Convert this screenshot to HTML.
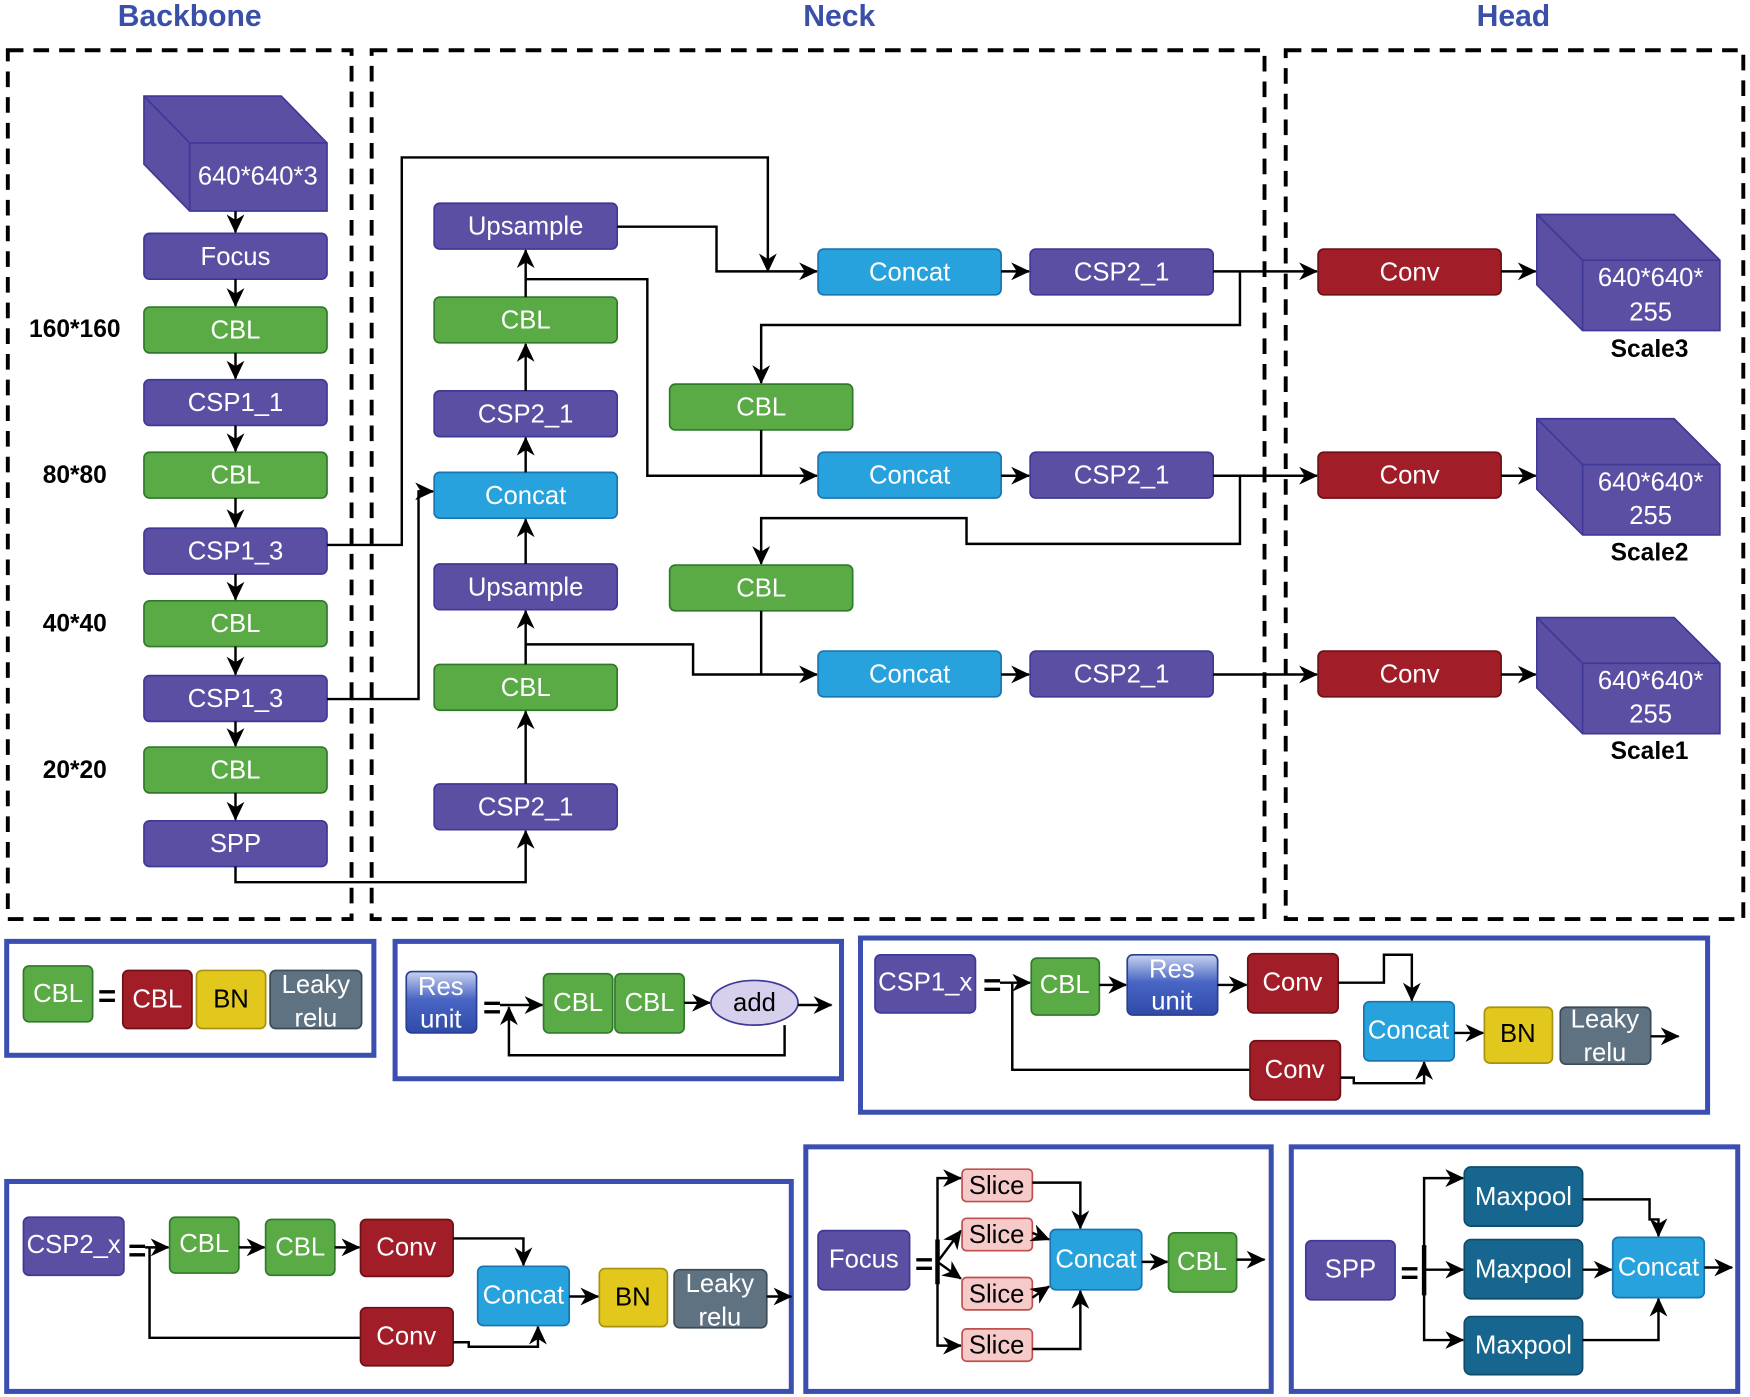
<!DOCTYPE html>
<html><head><meta charset="utf-8"><style>
html,body{margin:0;padding:0;background:#fff;}
svg{display:block;}
text{font-family:"Liberation Sans",sans-serif;}
.t{fill:#fff;font-size:23px;text-anchor:middle;dominant-baseline:central;}
.tk{fill:#000;font-size:23px;text-anchor:middle;dominant-baseline:central;}
.p{fill:#5b4fa3;stroke:#3e3896;stroke-width:1.5;}
.g{fill:#5aaa46;stroke:#2f7a2a;stroke-width:1.5;}
.c{fill:#27a2dc;stroke:#1a74b0;stroke-width:1.5;}
.r{fill:#a11d27;stroke:#6e1016;stroke-width:1.5;}
.y{fill:#e2c81c;stroke:#a89010;stroke-width:1.5;}
.gr{fill:#5f7282;stroke:#3c4a56;stroke-width:1.5;}
.ru{fill:url(#ru);stroke:#2a3e90;stroke-width:1.5;}
.sl{fill:#f7caca;stroke:#c0504d;stroke-width:1.5;}
.mp{fill:#17668f;stroke:#0e4a6a;stroke-width:1.5;}
.ln{fill:none;stroke:#000;stroke-width:2.2;}
.la{fill:none;stroke:#000;stroke-width:2.2;marker-end:url(#ah);}
.dash{fill:none;stroke:#000;stroke-width:3.5;stroke-dasharray:14 9;}
.lg{fill:none;stroke:#3a4fb0;stroke-width:4.5;}
.lab{fill:#000;font-size:22px;font-weight:bold;text-anchor:middle;dominant-baseline:central;}
.ttl{fill:#3a4fa8;font-size:27px;font-weight:bold;text-anchor:middle;dominant-baseline:central;}
</style></head><body>
<svg width="1750" height="1397" viewBox="0 0 1568 1251" preserveAspectRatio="none" xmlns="http://www.w3.org/2000/svg">
<defs>
<marker id="ah" markerWidth="18" markerHeight="16" refX="16" refY="8" orient="auto" markerUnits="userSpaceOnUse">
<path d="M0,0 L17,8 L0,16 L5,8 z" fill="#000"/>
</marker>
<linearGradient id="ru" x1="0" y1="0" x2="0" y2="1"><stop offset="0" stop-color="#c7d2f0"/><stop offset="0.45" stop-color="#4a66c4"/><stop offset="1" stop-color="#2f4aa8"/></linearGradient>
</defs>

<text class="ttl" x="170" y="15">Backbone</text>
<text class="ttl" x="752" y="15">Neck</text>
<text class="ttl" x="1356" y="15">Head</text>

<rect class="dash" x="7" y="45" width="308" height="778"/>
<rect class="dash" x="333" y="45" width="800" height="778"/>
<rect class="dash" x="1152" y="45" width="410" height="778"/>

<polygon class="p" points="129,86 252,86 293,128 293,189 170,189 129,147"/>
<polyline style="fill:none;stroke:#3e3896;stroke-width:1.5" points="129,86 170,128 293,128"/>
<line x1="170" y1="128" x2="170" y2="189" style="stroke:#3e3896;stroke-width:1.5"/>
<text class="t" x="231" y="158">640*640*3</text>

<rect class="p" x="129" y="209" width="164" height="41" rx="5"/><text class="t" x="211" y="230">Focus</text>
<rect class="g" x="129" y="275" width="164" height="41" rx="5"/><text class="t" x="211" y="296">CBL</text>
<rect class="p" x="129" y="340" width="164" height="41" rx="5"/><text class="t" x="211" y="361">CSP1_1</text>
<rect class="g" x="129" y="405" width="164" height="41" rx="5"/><text class="t" x="211" y="426">CBL</text>
<rect class="p" x="129" y="473" width="164" height="41" rx="5"/><text class="t" x="211" y="494">CSP1_3</text>
<rect class="g" x="129" y="538" width="164" height="41" rx="5"/><text class="t" x="211" y="559">CBL</text>
<rect class="p" x="129" y="605" width="164" height="41" rx="5"/><text class="t" x="211" y="626">CSP1_3</text>
<rect class="g" x="129" y="669" width="164" height="41" rx="5"/><text class="t" x="211" y="690">CBL</text>
<rect class="p" x="129" y="735" width="164" height="41" rx="5"/><text class="t" x="211" y="756">SPP</text>
<line class="la" x1="211" y1="189" x2="211" y2="208"/>
<line class="la" x1="211" y1="250" x2="211" y2="274"/>
<line class="la" x1="211" y1="316" x2="211" y2="339"/>
<line class="la" x1="211" y1="381" x2="211" y2="404"/>
<line class="la" x1="211" y1="446" x2="211" y2="472"/>
<line class="la" x1="211" y1="514" x2="211" y2="537"/>
<line class="la" x1="211" y1="579" x2="211" y2="604"/>
<line class="la" x1="211" y1="646" x2="211" y2="668"/>
<line class="la" x1="211" y1="710" x2="211" y2="734"/>

<text class="lab" x="67" y="295">160*160</text>
<text class="lab" x="67" y="426">80*80</text>
<text class="lab" x="67" y="559">40*40</text>
<text class="lab" x="67" y="690">20*20</text>

<rect class="p" x="389" y="182" width="164" height="41" rx="5"/><text class="t" x="471" y="203">Upsample</text>
<rect class="g" x="389" y="266" width="164" height="41" rx="5"/><text class="t" x="471" y="287">CBL</text>
<rect class="p" x="389" y="350" width="164" height="41" rx="5"/><text class="t" x="471" y="371">CSP2_1</text>
<rect class="c" x="389" y="423" width="164" height="41" rx="5"/><text class="t" x="471" y="444">Concat</text>
<rect class="p" x="389" y="505" width="164" height="41" rx="5"/><text class="t" x="471" y="526">Upsample</text>
<rect class="g" x="389" y="595" width="164" height="41" rx="5"/><text class="t" x="471" y="616">CBL</text>
<rect class="p" x="389" y="702" width="164" height="41" rx="5"/><text class="t" x="471" y="723">CSP2_1</text>
<line class="la" x1="471" y1="702" x2="471" y2="637"/>
<line class="la" x1="471" y1="595" x2="471" y2="547"/>
<line class="la" x1="471" y1="505" x2="471" y2="465"/>
<line class="la" x1="471" y1="423" x2="471" y2="392"/>
<line class="la" x1="471" y1="350" x2="471" y2="308"/>
<line class="la" x1="471" y1="266" x2="471" y2="224"/>

<polyline class="la" points="211,776 211,790 471,790 471,744"/>
<polyline class="la" points="293,488 360,488 360,141 688,141 688,243"/>
<polyline class="la" points="293,626 375,626 375,440 388,440"/>
<polyline class="la" points="553,203 642,203 642,243 732,243"/>
<polyline class="la" points="471,250 580,250 580,426 732,426"/>
<polyline class="la" points="471,577 621,577 621,604 732,604"/>

<rect class="g" x="600" y="344" width="164" height="41" rx="5"/><text class="t" x="682" y="365">CBL</text>
<rect class="g" x="600" y="506" width="164" height="41" rx="5"/><text class="t" x="682" y="527">CBL</text>
<line class="ln" x1="682" y1="385" x2="682" y2="426"/>
<line class="ln" x1="682" y1="547" x2="682" y2="604"/>
<polyline class="la" points="1111,243 1111,291 682,291 682,343"/>
<polyline class="la" points="1111,426 1111,487 866,487 866,464 682,464 682,505"/>

<rect class="c" x="733" y="223" width="164" height="41" rx="5"/><text class="t" x="815" y="244">Concat</text>
<rect class="p" x="923" y="223" width="164" height="41" rx="5"/><text class="t" x="1005" y="244">CSP2_1</text>
<rect class="c" x="733" y="405" width="164" height="41" rx="5"/><text class="t" x="815" y="426">Concat</text>
<rect class="p" x="923" y="405" width="164" height="41" rx="5"/><text class="t" x="1005" y="426">CSP2_1</text>
<rect class="c" x="733" y="583" width="164" height="41" rx="5"/><text class="t" x="815" y="604">Concat</text>
<rect class="p" x="923" y="583" width="164" height="41" rx="5"/><text class="t" x="1005" y="604">CSP2_1</text>
<line class="la" x1="897" y1="243" x2="922" y2="243"/>
<line class="la" x1="897" y1="426" x2="922" y2="426"/>
<line class="la" x1="897" y1="604" x2="922" y2="604"/>
<line class="la" x1="1087" y1="243" x2="1180" y2="243"/>
<line class="la" x1="1087" y1="426" x2="1180" y2="426"/>
<line class="la" x1="1087" y1="604" x2="1180" y2="604"/>

<rect class="r" x="1181" y="223" width="164" height="41" rx="5"/><text class="t" x="1263" y="244">Conv</text>
<rect class="r" x="1181" y="405" width="164" height="41" rx="5"/><text class="t" x="1263" y="426">Conv</text>
<rect class="r" x="1181" y="583" width="164" height="41" rx="5"/><text class="t" x="1263" y="604">Conv</text>
<line class="la" x1="1345" y1="243" x2="1376" y2="243"/>
<line class="la" x1="1345" y1="426" x2="1376" y2="426"/>
<line class="la" x1="1345" y1="604" x2="1376" y2="604"/>

<polygon class="p" points="1377,192 1500,192 1541,233 1541,296 1418,296 1377,255"/>
<polyline points="1377,192 1418,233 1541,233" style="fill:none;stroke:#3e3896;stroke-width:1.5"/><line x1="1418" y1="233" x2="1418" y2="296" style="stroke:#3e3896;stroke-width:1.5"/>
<text class="t" x="1479" y="249">640*640*</text><text class="t" x="1479" y="280">255</text>
<text class="lab" x="1478" y="313">Scale3</text>
<polygon class="p" points="1377,375 1500,375 1541,416 1541,479 1418,479 1377,438"/>
<polyline points="1377,375 1418,416 1541,416" style="fill:none;stroke:#3e3896;stroke-width:1.5"/><line x1="1418" y1="416" x2="1418" y2="479" style="stroke:#3e3896;stroke-width:1.5"/>
<text class="t" x="1479" y="432">640*640*</text><text class="t" x="1479" y="462">255</text>
<text class="lab" x="1478" y="495">Scale2</text>
<polygon class="p" points="1377,553 1500,553 1541,594 1541,657 1418,657 1377,616"/>
<polyline points="1377,553 1418,594 1541,594" style="fill:none;stroke:#3e3896;stroke-width:1.5"/><line x1="1418" y1="594" x2="1418" y2="657" style="stroke:#3e3896;stroke-width:1.5"/>
<text class="t" x="1479" y="610">640*640*</text><text class="t" x="1479" y="640">255</text>
<text class="lab" x="1478" y="673">Scale1</text>

<rect class="lg" x="6" y="843" width="329" height="102"/>
<rect class="g" x="21" y="865" width="62" height="50" rx="5"/><text class="t" x="52" y="890">CBL</text>
<text class="tk" x="96" y="892" style="font-weight:bold;font-size:28px">=</text>
<rect class="r" x="110" y="869" width="62" height="52" rx="5"/><text class="t" x="141" y="895">CBL</text>
<rect class="y" x="176" y="869" width="62" height="52" rx="5"/><text class="tk" x="207" y="895">BN</text>
<rect class="gr" x="242" y="869" width="82" height="52" rx="5"/><text class="t" x="283" y="882">Leaky</text><text class="t" x="283" y="912">relu</text>

<rect class="lg" x="354" y="843" width="400" height="123"/>
<rect class="ru" x="364" y="870" width="63" height="55" rx="5"/><text class="t" x="395" y="884">Res</text><text class="t" x="395" y="913">unit</text>
<text class="tk" x="441" y="902" style="font-weight:bold;font-size:28px">=</text>
<line class="la" x1="448" y1="900" x2="486" y2="900"/>
<rect class="g" x="487" y="872" width="62" height="53" rx="5"/><text class="t" x="518" y="898">CBL</text>
<rect class="g" x="551" y="872" width="62" height="53" rx="5"/><text class="t" x="582" y="898">CBL</text>
<line class="la" x1="613" y1="898" x2="636" y2="898"/>
<ellipse cx="676" cy="898" rx="39" ry="20" fill="#d6d0ec" stroke="#3e3896" stroke-width="1.5"/><text class="tk" x="676" y="898">add</text>
<line class="la" x1="715" y1="900" x2="745" y2="900"/>
<polyline class="la" points="703,918 703,945 456,945 456,902"/>

<rect class="lg" x="771" y="840" width="759" height="156"/>
<rect class="p" x="784" y="855" width="90" height="52" rx="5"/><text class="t" x="829" y="880">CSP1_x</text>
<text class="tk" x="889" y="882" style="font-weight:bold;font-size:28px">=</text>
<line class="la" x1="896" y1="880" x2="923" y2="880"/>
<rect class="g" x="924" y="858" width="61" height="51" rx="5"/><text class="t" x="954" y="882">CBL</text>
<line class="la" x1="985" y1="882" x2="1009" y2="882"/>
<rect class="ru" x="1010" y="855" width="81" height="54" rx="5"/><text class="t" x="1050" y="868">Res</text><text class="t" x="1050" y="897">unit</text>
<line class="la" x1="1091" y1="882" x2="1117" y2="882"/>
<rect class="r" x="1118" y="854" width="81" height="53" rx="5"/><text class="t" x="1158" y="880">Conv</text>
<polyline class="la" points="1199,880 1240,880 1240,855 1265,855 1265,896"/>
<polyline class="ln" points="907,880 907,958 1120,958"/>
<rect class="r" x="1120" y="932" width="81" height="53" rx="5"/><text class="t" x="1160" y="958">Conv</text>
<polyline class="la" points="1201,965 1213,965 1213,970 1276,970 1276,951"/>
<rect class="c" x="1222" y="897" width="81" height="53" rx="5"/><text class="t" x="1262" y="923">Concat</text>
<line class="la" x1="1303" y1="925" x2="1329" y2="925"/>
<rect class="y" x="1330" y="902" width="61" height="50" rx="5"/><text class="tk" x="1360" y="926">BN</text>
<rect class="gr" x="1398" y="902" width="81" height="51" rx="5"/><text class="t" x="1438" y="913">Leaky</text><text class="t" x="1438" y="943">relu</text>
<line class="la" x1="1479" y1="928" x2="1504" y2="928"/>

<rect class="lg" x="6" y="1058" width="703" height="188"/>
<rect class="p" x="21" y="1090" width="90" height="52" rx="5"/><text class="t" x="66" y="1115">CSP2_x</text>
<text class="tk" x="123" y="1120" style="font-weight:bold;font-size:28px">=</text>
<line class="la" x1="130" y1="1117" x2="151" y2="1117"/>
<rect class="g" x="152" y="1090" width="62" height="50" rx="5"/><text class="t" x="183" y="1114">CBL</text>
<line class="la" x1="214" y1="1117" x2="237" y2="1117"/>
<rect class="g" x="238" y="1092" width="62" height="50" rx="5"/><text class="t" x="269" y="1117">CBL</text>
<line class="la" x1="300" y1="1117" x2="322" y2="1117"/>
<rect class="r" x="323" y="1092" width="83" height="51" rx="5"/><text class="t" x="364" y="1117">Conv</text>
<polyline class="la" points="406,1109 469,1109 469,1133"/>
<polyline class="ln" points="134,1117 134,1198 323,1198"/>
<rect class="r" x="323" y="1171" width="83" height="52" rx="5"/><text class="t" x="364" y="1197">Conv</text>
<polyline class="la" points="406,1202 420,1202 420,1206 482,1206 482,1188"/>
<rect class="c" x="428" y="1134" width="82" height="53" rx="5"/><text class="t" x="469" y="1160">Concat</text>
<line class="la" x1="510" y1="1161" x2="536" y2="1161"/>
<rect class="y" x="537" y="1136" width="61" height="52" rx="5"/><text class="tk" x="567" y="1162">BN</text>
<rect class="gr" x="604" y="1137" width="83" height="52" rx="5"/><text class="t" x="645" y="1150">Leaky</text><text class="t" x="645" y="1180">relu</text>
<line class="la" x1="687" y1="1161" x2="709" y2="1161"/>

<rect class="lg" x="722" y="1027" width="417" height="219"/>
<rect class="p" x="733" y="1102" width="82" height="53" rx="5"/><text class="t" x="774" y="1128">Focus</text>
<text class="tk" x="828" y="1132" style="font-weight:bold;font-size:28px">=</text>
<line x1="840" y1="1110" x2="840" y2="1150" stroke="#000" stroke-width="4"/>
<polyline class="la" points="840,1135 840,1055 861,1055"/>
<polyline class="la" points="840,1135 840,1205 861,1205"/>
<polyline class="la" points="840,1130 861,1102"/>
<polyline class="la" points="840,1130 861,1145"/>
<rect class="sl" x="862" y="1047" width="63" height="29" rx="4"/><text class="tk" x="893" y="1062">Slice</text>
<rect class="sl" x="862" y="1091" width="63" height="29" rx="4"/><text class="tk" x="893" y="1106">Slice</text>
<rect class="sl" x="862" y="1144" width="63" height="29" rx="4"/><text class="tk" x="893" y="1159">Slice</text>
<rect class="sl" x="862" y="1190" width="63" height="29" rx="4"/><text class="tk" x="893" y="1205">Slice</text>
<polyline class="la" points="925,1059 968,1059 968,1100"/>
<polyline class="la" points="925,1104 940,1110"/>
<polyline class="la" points="925,1162 940,1152"/>
<polyline class="la" points="925,1208 968,1208 968,1156"/>
<rect class="c" x="941" y="1101" width="82" height="54" rx="5"/><text class="t" x="982" y="1128">Concat</text>
<line class="la" x1="1023" y1="1130" x2="1046" y2="1130"/>
<rect class="g" x="1047" y="1104" width="61" height="53" rx="5"/><text class="t" x="1077" y="1130">CBL</text>
<line class="la" x1="1108" y1="1128" x2="1133" y2="1128"/>

<rect class="lg" x="1157" y="1027" width="400" height="219"/>
<rect class="p" x="1170" y="1111" width="80" height="53" rx="5"/><text class="t" x="1210" y="1137">SPP</text>
<text class="tk" x="1263" y="1140" style="font-weight:bold;font-size:28px">=</text>
<line x1="1276" y1="1115" x2="1276" y2="1160" stroke="#000" stroke-width="4"/>
<polyline class="la" points="1276,1137 1276,1055 1311,1055"/>
<polyline class="la" points="1276,1137 1276,1200 1311,1200"/>
<line class="la" x1="1276" y1="1137" x2="1311" y2="1137"/>
<rect class="mp" x="1312" y="1045" width="106" height="53" rx="6"/><text class="t" x="1365" y="1072">Maxpool</text>
<rect class="mp" x="1312" y="1110" width="106" height="53" rx="6"/><text class="t" x="1365" y="1137">Maxpool</text>
<rect class="mp" x="1312" y="1179" width="106" height="52" rx="6"/><text class="t" x="1365" y="1205">Maxpool</text>
<polyline class="la" points="1418,1074 1478,1074 1478,1092 1486,1092 1486,1107"/>
<line class="la" x1="1418" y1="1137" x2="1444" y2="1137"/>
<polyline class="la" points="1418,1200 1486,1200 1486,1163"/>
<rect class="c" x="1445" y="1108" width="82" height="54" rx="5"/><text class="t" x="1486" y="1135">Concat</text>
<line class="la" x1="1527" y1="1135" x2="1552" y2="1135"/>
</svg>
</body></html>
